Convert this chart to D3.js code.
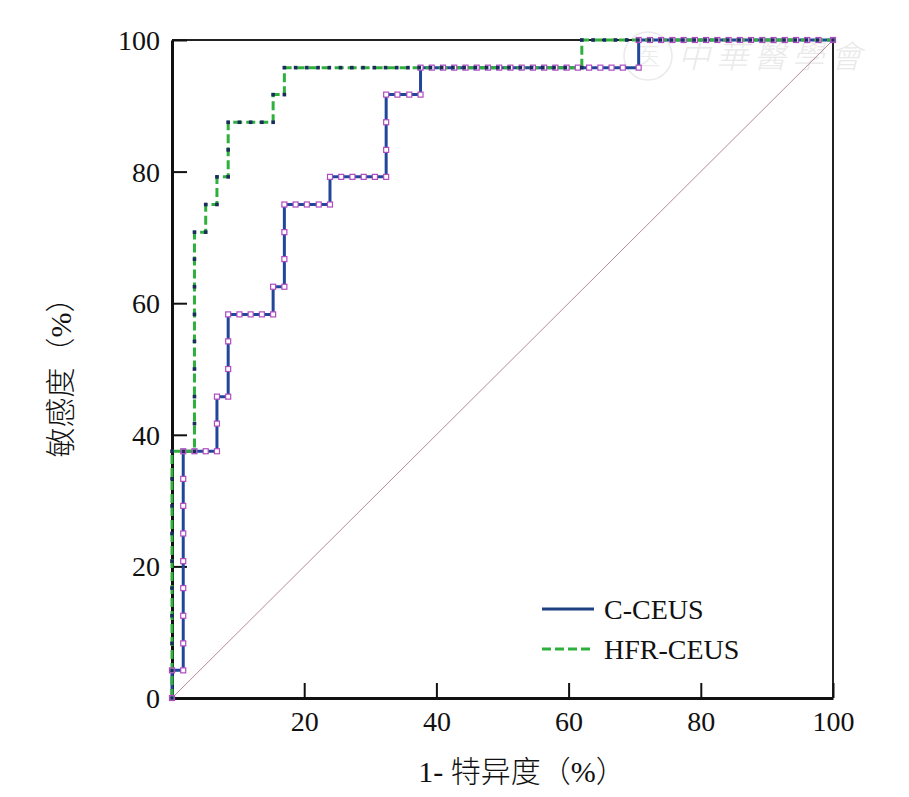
<!DOCTYPE html>
<html>
<head>
<meta charset="utf-8">
<script src="https://cdn.jsdelivr.net/npm/d3@7"></script>
<style>
  body { margin: 0; background: #fff; }
</style>
</head>
<body>
<div id="chart"></div>
<script>
// ── Data ──────────────────────────────────────────────────────────────────────

const xTicks = [20, 40, 60, 80, 100];
const yTicks = [0, 20, 40, 60, 80, 100];
const seriesNames = ["C-CEUS", "HFR-CEUS"];

// C-CEUS ROC points: 1-specificity (%) and sensitivity (%)
const cceusX = [0, 0, 1.7, 1.7, 1.7, 1.7, 1.7, 1.7, 1.7, 1.7, 1.7,
  3.4, 5.1, 6.8, 6.8, 6.8, 8.5, 8.5, 8.5, 8.5,
  10.2, 11.9, 13.6, 15.3, 15.3, 17.0, 17.0, 17.0, 17.0,
  18.7, 20.4, 22.2, 23.9, 23.9, 25.6, 27.3, 29.0, 30.7, 32.4, 32.4, 32.4, 32.4,
  34.1, 35.9, 37.6, 37.6,
  39.3, 41.0, 42.7, 44.4, 46.1, 47.8, 49.5, 51.2, 52.9, 54.6, 56.3, 58.0, 59.7,
  61.4, 63.1, 64.8, 66.5, 68.2, 70.6, 70.6,
  72.3, 74.0, 75.7, 77.4, 79.1, 80.8, 82.5, 84.2, 85.9, 87.6, 89.3, 91.0, 92.7,
  94.4, 96.1, 97.8, 100];
const cceusY = [0, 4.2, 4.2, 8.3, 12.5, 16.7, 20.8, 25.0, 29.2, 33.3, 37.5,
  37.5, 37.5, 37.5, 41.7, 45.8, 45.8, 50.0, 54.2, 58.3,
  58.3, 58.3, 58.3, 58.3, 62.5, 62.5, 66.7, 70.8, 75.0,
  75.0, 75.0, 75.0, 75.0, 79.2, 79.2, 79.2, 79.2, 79.2, 79.2, 83.3, 87.5, 91.7,
  91.7, 91.7, 91.7, 95.8,
  95.8, 95.8, 95.8, 95.8, 95.8, 95.8, 95.8, 95.8, 95.8, 95.8, 95.8, 95.8, 95.8,
  95.8, 95.8, 95.8, 95.8, 95.8, 95.8, 100,
  100, 100, 100, 100, 100, 100, 100, 100, 100, 100, 100, 100, 100,
  100, 100, 100, 100];

// HFR-CEUS ROC points
const hfrX = [0, 0, 0, 0, 0, 0, 0, 0, 0, 0, 1.7, 3.4,
  3.4, 3.4, 3.4, 3.4, 3.4, 3.4, 3.4, 3.4,
  5.1, 5.1, 6.8, 6.8, 8.5, 8.5, 8.5,
  10.2, 11.9, 13.6, 15.3, 15.3, 17.0, 17.0,
  18.7, 20.4, 22.1, 23.8, 25.5, 27.2, 28.9, 30.6, 32.3, 34.0, 35.7, 37.4, 39.1,
  40.8, 42.5, 44.2, 45.9, 47.6, 49.3, 51.0, 52.7, 54.4, 56.1, 57.8, 59.5, 62.0, 62.0,
  63.7, 65.4, 67.1, 68.8, 70.5, 72.2, 73.9, 75.6, 77.3, 79.0, 80.7, 82.4, 84.1,
  85.8, 87.5, 89.2, 90.9, 92.6, 94.3, 96.0, 97.7, 100];
const hfrY = [0, 4.2, 8.3, 12.5, 16.7, 20.8, 25.0, 29.2, 33.3, 37.5, 37.5, 37.5,
  41.7, 45.8, 50.0, 54.2, 58.3, 62.5, 66.7, 70.8,
  70.8, 75.0, 75.0, 79.2, 79.2, 83.3, 87.5,
  87.5, 87.5, 87.5, 87.5, 91.7, 91.7, 95.8,
  95.8, 95.8, 95.8, 95.8, 95.8, 95.8, 95.8, 95.8, 95.8, 95.8, 95.8, 95.8, 95.8,
  95.8, 95.8, 95.8, 95.8, 95.8, 95.8, 95.8, 95.8, 95.8, 95.8, 95.8, 95.8, 95.8, 100,
  100, 100, 100, 100, 100, 100, 100, 100, 100, 100, 100, 100, 100,
  100, 100, 100, 100, 100, 100, 100, 100, 100];

// ── Setup ─────────────────────────────────────────────────────────────────────

const W = 909, H = 797;
const plotLeft = 172, plotRight = 833, plotTop = 40, plotBottom = 698;
const serif = "Liberation Serif, Noto Sans CJK SC, serif";

const svg = d3.select("#chart").append("svg")
    .attr("width", W).attr("height", H);

const x = d3.scaleLinear().domain([0, 100]).range([plotLeft, plotRight]);
const y = d3.scaleLinear().domain([0, 100]).range([plotBottom, plotTop]);

// faint watermark, top right
const wm = svg.append("g").attr("opacity", 0.5);
wm.append("circle").attr("cx", 648).attr("cy", 56).attr("r", 24)
    .attr("fill", "none").attr("stroke", "#d6d6d6").attr("stroke-width", 1.5);
wm.append("text").attr("x", 648).attr("y", 65).attr("text-anchor", "middle")
    .attr("font-family", "Noto Sans CJK SC").attr("font-weight", 300).attr("font-size", 24)
    .attr("fill", "#d8d8d8").text("医");
wm.append("text").attr("x", 678).attr("y", 68)
    .attr("font-family", "Noto Sans CJK SC").attr("font-weight", 300).attr("font-size", 32)
    .attr("font-style", "italic").attr("letter-spacing", 6)
    .attr("fill", "#d4d4d4").text("中華醫學會");

// frame (top and right)
svg.append("line").attr("x1", x(0)).attr("x2", x(100)).attr("y1", y(100)).attr("y2", y(100))
    .attr("stroke", "#222").attr("stroke-width", 2);
svg.append("line").attr("x1", x(100)).attr("x2", x(100)).attr("y1", y(0)).attr("y2", y(100))
    .attr("stroke", "#222").attr("stroke-width", 2);

// reference diagonal
svg.append("line").attr("x1", x(0)).attr("y1", y(0)).attr("x2", x(100)).attr("y2", y(100))
    .attr("stroke", "#b88a96").attr("stroke-width", 1);

// ── Axes ──────────────────────────────────────────────────────────────────────

const yAxis = d3.axisLeft(y).tickValues(yTicks).tickSizeInner(-15).tickSizeOuter(0).tickPadding(12);
const xAxis = d3.axisBottom(x).tickValues(xTicks).tickSizeInner(-15).tickSizeOuter(0).tickPadding(13);

const gy = svg.append("g").attr("transform", `translate(${plotLeft},0)`).call(yAxis);
const gx = svg.append("g").attr("transform", `translate(0,${plotBottom})`).call(xAxis);

[gx, gy].forEach(g => {
    g.attr("font-family", serif).attr("font-size", 28);
    g.select(".domain").attr("stroke", "#111").attr("stroke-width", 3);
    g.selectAll(".tick line").attr("stroke", "#111").attr("stroke-width", 2);
    g.selectAll(".tick text").attr("fill", "#111");
});
gy.selectAll(".tick text").attr("dy", "0.34em");
gx.selectAll(".tick text").attr("dy", "0.72em");

// axis titles
svg.append("text").attr("x", 522).attr("y", 782).attr("text-anchor", "middle")
    .attr("font-size", 30).attr("font-weight", 300).attr("fill", "#111").attr("font-family", serif)
    .text("1- 特异度（%）");
svg.append("text").attr("transform", "translate(71,370) rotate(-90)")
    .attr("text-anchor", "middle").attr("font-size", 30).attr("font-weight", 300).attr("fill", "#111")
    .attr("font-family", serif)
    .text("敏感度（%）");

// ── Curves ────────────────────────────────────────────────────────────────────

const line = d3.line().x(d => x(d[0])).y(d => y(d[1]));
const cceus = cceusX.map((v, i) => [v, cceusY[i]]);
const hfr = hfrX.map((v, i) => [v, hfrY[i]]);

svg.append("path").datum(cceus).attr("d", line)
    .attr("fill", "none").attr("stroke", "#22479a").attr("stroke-width", 3);

svg.append("path").datum(hfr).attr("d", line)
    .attr("fill", "none").attr("stroke", "#2fb03c").attr("stroke-width", 3)
    .attr("stroke-dasharray", "9,4");

svg.selectAll(".m-c").data(cceus).enter().append("rect")
    .attr("class", "m-c")
    .attr("x", d => x(d[0]) - 2.5).attr("y", d => y(d[1]) - 2.5)
    .attr("width", 5).attr("height", 5)
    .attr("fill", "#fff").attr("stroke", "#b04ac0").attr("stroke-width", 1.2);

svg.selectAll(".m-h").data(hfr).enter().append("rect")
    .attr("class", "m-h")
    .attr("x", d => x(d[0]) - 1.8).attr("y", d => y(d[1]) - 1.8)
    .attr("width", 3.6).attr("height", 3.6)
    .attr("fill", "#1c2b5e");

// ── Legend ────────────────────────────────────────────────────────────────────

const legend = svg.append("g");
const legendStyles = [
    { color: "#1e3f80", dash: null },
    { color: "#2fb03c", dash: "9,4" }
];
seriesNames.forEach((name, i) => {
    const ly = 609 + i * 40;
    legend.append("line").attr("x1", 542).attr("x2", 594).attr("y1", ly).attr("y2", ly)
        .attr("stroke", legendStyles[i].color).attr("stroke-width", 3)
        .attr("stroke-dasharray", legendStyles[i].dash);
    legend.append("text").attr("x", 604).attr("y", ly + 10)
        .attr("font-size", 28).attr("font-family", serif).attr("fill", "#111").text(name);
});
</script>
</body>
</html>
